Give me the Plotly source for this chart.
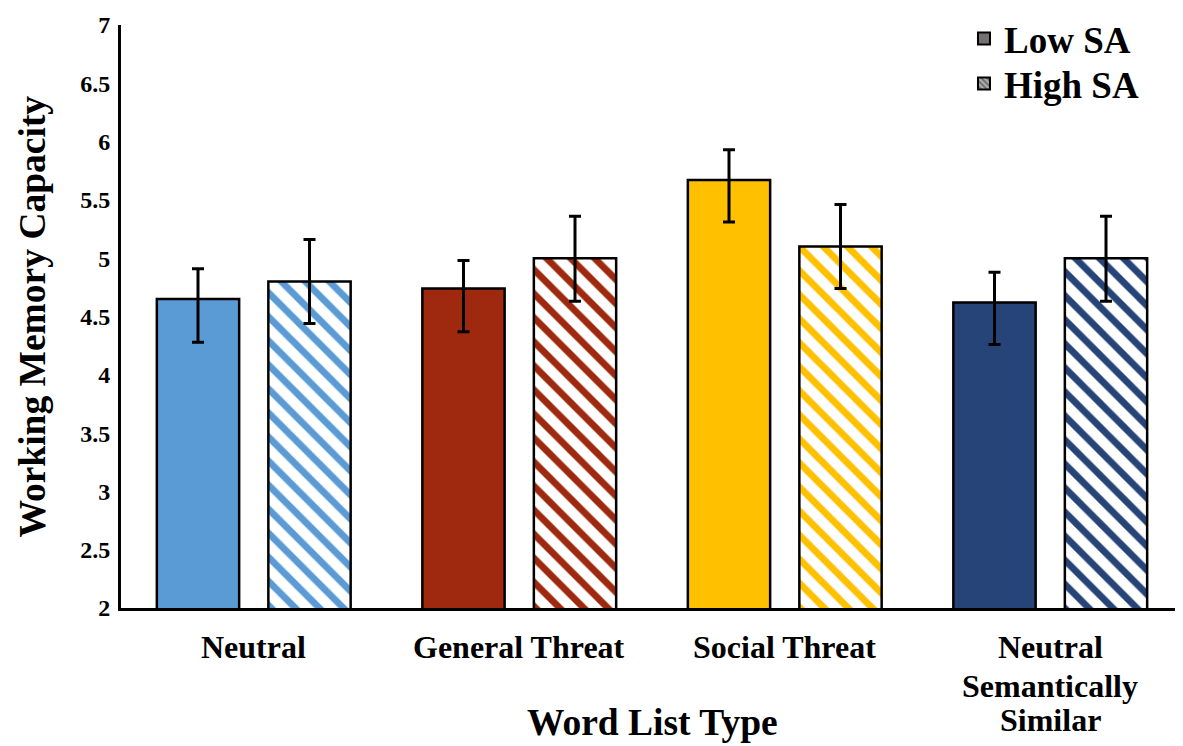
import plotly.graph_objects as go

categories = ["Neutral", "General Threat", "Social Threat", "Neutral Semantically Similar"]
tick_label_lines = [["Neutral"], ["General Threat"], ["Social Threat"], ["Neutral", "Semantically", "Similar"]]
colors = ["#5B9BD5", "#9E290E", "#FFC000", "#264478"]

low_sa = [4.65, 4.74, 5.67, 4.62]
low_err_plus = [0.26, 0.24, 0.26, 0.26]
low_err_minus = [0.37, 0.37, 0.36, 0.36]

high_sa = [4.80, 5.00, 5.10, 5.00]
high_err_plus = [0.36, 0.36, 0.36, 0.36]
high_err_minus = [0.36, 0.37, 0.36, 0.37]

y_ticks = [2, 2.5, 3, 3.5, 4, 4.5, 5, 5.5, 6, 6.5, 7]
y_tick_text = ["2", "2.5", "3", "3.5", "4", "4.5", "5", "5.5", "6", "6.5", "7"]

FONT = "Liberation Serif"

fig = go.Figure()

err_style = dict(type="data", symmetric=False, color="black", thickness=3, width=6)

fig.add_trace(go.Bar(
    x=categories, y=low_sa, name="Low SA", showlegend=False,
    width=0.31, offset=-0.365,
    marker=dict(color=colors, line=dict(color="black", width=2.5)),
    error_y=dict(array=low_err_plus, arrayminus=low_err_minus, **err_style),
))
fig.add_trace(go.Bar(
    x=categories, y=high_sa, name="High SA", showlegend=False,
    width=0.31, offset=0.055,
    marker=dict(color=colors, line=dict(color="black", width=2.5),
                pattern=dict(shape="\\", fgcolor="white", size=17, solidity=0.4, fillmode="replace")),
    error_y=dict(array=high_err_plus, arrayminus=high_err_minus, **err_style),
))

# legend proxies (grey)
fig.add_trace(go.Bar(x=[None], y=[None], name="Low SA", legend="legend",
                     marker=dict(color="#767171", line=dict(color="black", width=1.5))))
fig.add_trace(go.Bar(x=[None], y=[None], name="High SA", legend="legend2",
                     marker=dict(color="#767171", line=dict(color="black", width=1.5),
                                 pattern=dict(shape="\\", fgcolor="white", size=5, solidity=0.4))))

annotations = []
line_offsets = [39, 78, 112]
for cat, lines in zip(categories, tick_label_lines):
    for i, line in enumerate(lines):
        annotations.append(dict(
            x=cat, xref="x", y=0, yref="paper", yshift=-line_offsets[i],
            text=line, showarrow=False, xanchor="center", yanchor="middle",
            font=dict(family=FONT, size=32, weight="bold", color="black"),
        ))
annotations.append(dict(
    x=0.5, xref="paper", y=0, yref="paper", yshift=-114,
    text="Word List Type", showarrow=False, xanchor="center", yanchor="middle",
    font=dict(family=FONT, size=37.5, weight="bold", color="black"),
))
annotations.append(dict(
    x=0, xref="paper", y=0.5, yref="paper", xshift=-89, height=46,
    text="Working Memory Capacity", showarrow=False, textangle=-90,
    xanchor="center", yanchor="middle",
    font=dict(family=FONT, size=37.5, weight="bold", color="black"),
))

legend_style = dict(xanchor="left", yanchor="top", xref="container", yref="container",
                    font=dict(family=FONT, size=37, weight="bold", color="black"),
                    bgcolor="rgba(0,0,0,0)", itemsizing="constant")

fig.update_layout(
    width=1175, height=738,
    margin=dict(l=113, r=0, t=17, b=138, autoexpand=False),
    paper_bgcolor="white", plot_bgcolor="white",
    barmode="overlay",
    font=dict(family=FONT, color="black", size=22, weight="bold"),
    showlegend=True,
    legend=dict(x=0.8136, y=1.0, **legend_style),
    legend2=dict(x=0.8136, y=1.0 - 45 / 738, **legend_style),
    annotations=annotations,
    xaxis=dict(
        type="category", range=[-0.5, 3.5], automargin=False,
        showticklabels=False,
        showline=True, linecolor="black", linewidth=3, ticks="",
        showgrid=False, zeroline=False,
    ),
    yaxis=dict(
        range=[2, 7], automargin=False,
        tickmode="array", tickvals=y_ticks, ticktext=y_tick_text,
        showline=True, linecolor="black", linewidth=3, ticks="",
        showgrid=False, zeroline=False,
        tickfont=dict(family=FONT, size=24, weight="bold"),
        ticklabelstandoff=3,
    ),
)

fig.write_html("out.html")
